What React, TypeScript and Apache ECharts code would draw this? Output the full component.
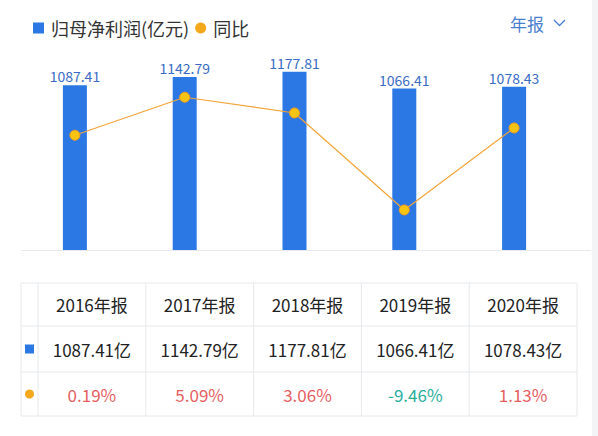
import React, { useEffect, useRef } from 'react';
import * as echarts from 'echarts';

const years = ['2016', '2017', '2018', '2019', '2020'];
const netProfit = [1087.41, 1142.79, 1177.81, 1066.41, 1078.43];
const yoy = [0.19, 5.09, 3.06, -9.46, 1.13];

const legendNames = ['归母净利润(亿元)', '同比'];

const FONT = '"Noto Sans CJK SC", "Noto Sans", sans-serif';
const BAR_COLOR = '#2b78e4';
const LINE_COLOR = '#f3a43a';
const DOT_COLOR = '#f8c414';

// table geometry
const tableLeft = 21;
const firstColRight = 38;
const tableRight = 577;
const rowLines = [283, 326, 372, 416];

function buildTable(): any[] {
  const colW = (tableRight - firstColRight) / years.length;
  const els: any[] = [];
  const border = { stroke: '#e6e8eb', lineWidth: 1 };

  rowLines.forEach((y) => {
    els.push({ type: 'line', shape: { x1: tableLeft, y1: y, x2: tableRight, y2: y }, style: border, silent: true });
  });
  const colXs = [tableLeft, firstColRight];
  years.forEach((_, i) => colXs.push(firstColRight + colW * (i + 1)));
  colXs.forEach((x) => {
    els.push({ type: 'line', shape: { x1: x, y1: rowLines[0], x2: x, y2: rowLines[3] }, style: border, silent: true });
  });

  const rowMid = (r: number) => (rowLines[r] + rowLines[r + 1]) / 2;
  const markerX = (tableLeft + firstColRight) / 2;

  els.push({
    type: 'rect',
    shape: { x: markerX - 4.5, y: rowMid(1) - 4.5, width: 9, height: 9 },
    style: { fill: BAR_COLOR },
  });
  els.push({
    type: 'circle',
    shape: { cx: markerX, cy: rowMid(2), r: 4.5 },
    style: { fill: '#f5a81c' },
  });

  years.forEach((yr, i) => {
    const cx = firstColRight + colW * (i + 0.5);
    const common = { x: cx, align: 'center', verticalAlign: 'middle', fontFamily: FONT, fontSize: 17 };
    els.push({ type: 'text', style: { ...common, y: rowMid(0), text: `${yr}年报`, fill: '#222' } });
    els.push({ type: 'text', style: { ...common, y: rowMid(1), text: `${netProfit[i].toFixed(2)}亿`, fill: '#222' } });
    els.push({
      type: 'text',
      style: { ...common, y: rowMid(2), text: `${yoy[i].toFixed(2)}%`, fill: yoy[i] < 0 ? '#2aae9c' : '#e5605f' },
    });
  });
  return els;
}

const App: React.FC = () => {
  const chartRef = useRef<HTMLDivElement>(null);

  useEffect(() => {
    const chart = echarts.init(chartRef.current!, undefined, { renderer: 'svg' });

    const option: echarts.EChartsOption = {
      animation: false,
      backgroundColor: '#ffffff',
      textStyle: { fontFamily: FONT },
      legend: {
        left: 28,
        top: 14,
        itemWidth: 11,
        itemHeight: 11,
        itemGap: 6,
        textStyle: { fontSize: 18, color: '#333', fontFamily: FONT, padding: [0, 0, 0, 2] },
        data: [
          { name: legendNames[0], icon: 'rect', itemStyle: { color: BAR_COLOR } },
          { name: legendNames[1], icon: 'circle', itemStyle: { color: '#f5a81c', borderWidth: 0 } },
        ],
        selectedMode: false,
      },
      grid: { left: 20, right: 29, top: 38, bottom: 186 },
      xAxis: {
        type: 'category',
        data: years,
        boundaryGap: true,
        show: false,
      },
      yAxis: [
        { type: 'value', min: 0, max: 1400, show: false },
        { type: 'value', min: -14.63, max: 12.74, show: false },
      ],
      series: [
        {
          name: legendNames[0],
          type: 'bar',
          data: netProfit,
          barWidth: 24,
          itemStyle: { color: BAR_COLOR },
          label: {
            show: true,
            position: 'top',
            distance: 2,
            color: '#3a6cc4',
            fontSize: 14,
            fontFamily: FONT,
            formatter: (p: any) => Number(p.value).toFixed(2),
          },
        },
        {
          name: legendNames[1],
          type: 'line',
          yAxisIndex: 1,
          data: yoy,
          symbol: 'circle',
          symbolSize: 10,
          lineStyle: { color: LINE_COLOR, width: 1.2 },
          itemStyle: { color: DOT_COLOR, borderColor: '#f39a1e', borderWidth: 1 },
        },
      ],
      graphic: [
        { type: 'rect', shape: { x: 592, y: 0, width: 6, height: 436 }, style: { fill: '#f3f4f6' }, silent: true },
        { type: 'line', shape: { x1: 21, y1: 250.5, x2: 591, y2: 250.5 }, style: { stroke: '#e8e9ec', lineWidth: 1 }, z: -1 },
        {
          type: 'text',
          style: { x: 510, y: 23, text: '年报', fill: '#4a7fd0', fontSize: 17, fontFamily: FONT, verticalAlign: 'middle' },
        },
        {
          type: 'polyline',
          shape: { points: [[554, 20], [559.5, 25.5], [565, 20]] },
          style: { stroke: '#4a7fd0', lineWidth: 1.3, fill: 'none' },
        },
        ...buildTable(),
      ],
    };

    chart.setOption(option);
    return () => {
      chart.dispose();
    };
  }, []);

  return (
    <div
      ref={chartRef}
      style={{ position: 'fixed', left: 0, top: 0, width: '598px', height: '436px' }}
    />
  );
};

export default App;
